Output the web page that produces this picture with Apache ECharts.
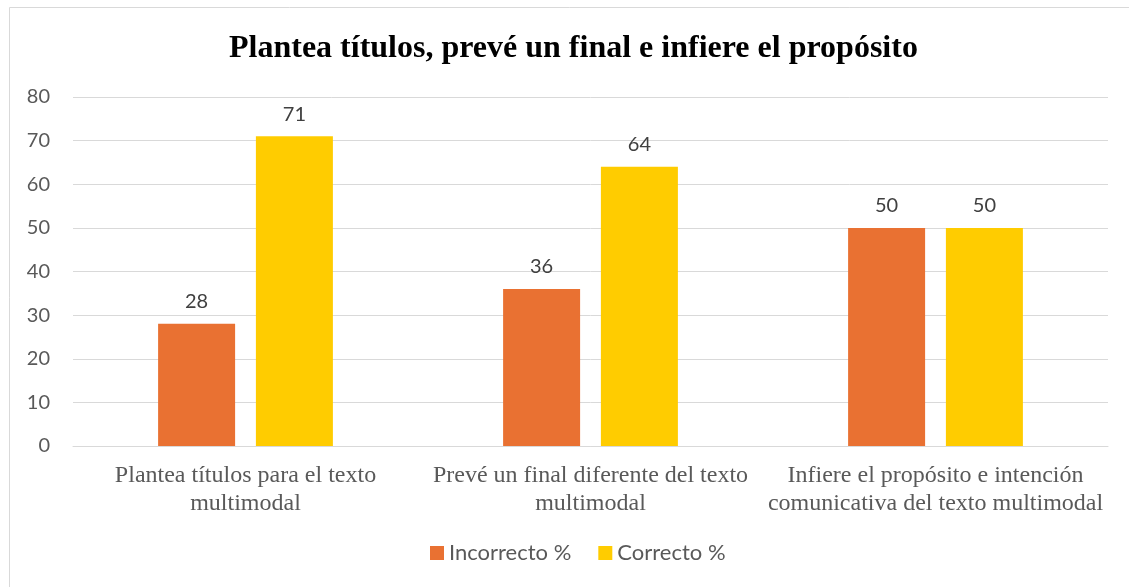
<!DOCTYPE html>
<html>
<head>
<meta charset="utf-8">
<script src="https://cdn.jsdelivr.net/npm/echarts@6/dist/echarts.min.js"></script>
<style>
  html, body { margin: 0; padding: 0; background: #fff; }
  #chart { width: 1129px; height: 587px; }
</style>
</head>
<body>
<div id="chart"></div>
<script>
  // categories and values
  const categories = [
    'Plantea títulos para el texto\nmultimodal',
    'Prevé un final diferente del texto\nmultimodal',
    'Infiere el propósito e intención\ncomunicativa del texto multimodal'
  ];
  const incorrecto = [28, 36, 50];
  const correcto = [71, 64, 50];
  const yTicks = [0, 10, 20, 30, 40, 50, 60, 70, 80];

  const sans = 'Lato, "Open Sans", sans-serif';
  const serif = '"Liberation Serif", "DejaVu Serif", serif';

  const chart = echarts.init(document.getElementById('chart'));
  const option = {
    backgroundColor: '#fff',
    animation: false,
    graphic: [{
      type: 'rect',
      shape: { x: 9.5, y: 7.5, width: 1140, height: 600 },
      style: { fill: 'none', stroke: '#d9d9d9', lineWidth: 1 }
    }],
    title: {
      text: 'Plantea títulos, prevé un final e infiere el propósito',
      left: 224,
      top: 28,
      textStyle: { fontFamily: serif, fontWeight: 'bold', fontSize: 32, color: '#000' }
    },
    legend: {
      bottom: 18,
      left: 425,
      itemWidth: 14,
      itemHeight: 14,
      itemGap: 27,
      icon: 'rect',
      textStyle: { fontFamily: sans, fontSize: 22, color: '#595959' },
      data: ['Incorrecto %', 'Correcto %']
    },
    grid: { left: 73, right: 21, top: 97, bottom: 141, containLabel: false },
    xAxis: {
      type: 'category',
      data: categories,
      axisTick: { show: false },
      axisLine: { lineStyle: { color: '#d9d9d9', width: 1 } },
      axisLabel: {
        fontFamily: serif,
        fontSize: 24,
        color: '#595959',
        margin: 16,
        lineHeight: 28,
        interval: 0
      }
    },
    yAxis: {
      type: 'value',
      min: yTicks[0],
      max: yTicks[yTicks.length - 1],
      interval: 10,
      axisLine: { show: false },
      axisTick: { show: false },
      splitLine: { lineStyle: { color: '#d9d9d9', width: 1 } },
      axisLabel: { fontFamily: sans, fontSize: 20, color: '#595959', margin: 23 }
    },
    series: [
      {
        name: 'Incorrecto %',
        type: 'bar',
        data: incorrecto,
        barWidth: 77,
        barGap: '27%',
        itemStyle: { color: '#E97132' },
        label: { show: true, position: 'top', distance: 12, fontFamily: sans, fontSize: 20, color: '#404040' }
      },
      {
        name: 'Correcto %',
        type: 'bar',
        data: correcto,
        barWidth: 77,
        barGap: '27%',
        itemStyle: { color: '#FFCC00' },
        label: { show: true, position: 'top', distance: 12, fontFamily: sans, fontSize: 20, color: '#404040' }
      }
    ]
  };
  chart.setOption(option);
</script>
</body>
</html>
